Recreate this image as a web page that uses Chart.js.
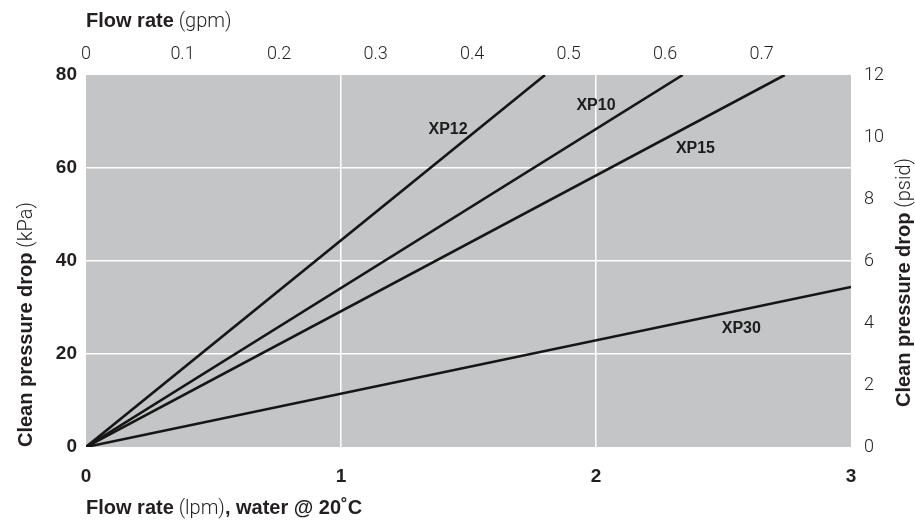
<!DOCTYPE html>
<html>
<head>
<meta charset="utf-8">
<script src="https://cdn.jsdelivr.net/npm/chart.js@4.4.1/dist/chart.umd.min.js"></script>
<style>
  html, body { margin: 0; padding: 0; background: #fff; }
  #wrap { width: 915px; height: 524px; position: relative; }
</style>
</head>
<body>
<div id="wrap"><canvas id="chart"></canvas></div>
<script>
// data
const seriesNames = ['XP12', 'XP10', 'XP15', 'XP30'];
const flowEnd = [1.8, 2.34, 2.74, 3];      // lpm where each line leaves the plot
const dropEnd = [80, 80, 80, 34.4];        // kPa at that point
const labelFlow = [1.42, 2.0, 2.39, 2.57]; // where the series names sit
const labelDrop = [68.2, 73.5, 64.1, 25.4];

const lpmTicks = [0, 1, 2, 3];
const kpaTicks = [0, 20, 40, 60, 80];
const psiTicks = [0, 2, 4, 6, 8, 10, 12];
const gpmMax = 3 / 3.785;

const BOLD = "bold 20px 'Liberation Sans', Arial, sans-serif";
const LIGHT = "300 20px Roboto, 'Liberation Sans', sans-serif";

const datasets = seriesNames.map((name, i) => ({
    label: name,
    data: [{x: 0, y: 0}, {x: flowEnd[i], y: dropEnd[i]}],
    borderColor: '#161616',
    borderWidth: 2.6,
    pointRadius: 0,
    xAxisID: 'x',
    yAxisID: 'y'
}));

// gray plot background
const background = {
    id: 'background',
    beforeDraw(chart) {
        const {ctx, chartArea: a} = chart;
        ctx.save();
        ctx.fillStyle = '#c4c5c7';
        ctx.fillRect(a.left, a.top, a.right - a.left, a.bottom - a.top);
        ctx.restore();
    }
};

// draw parts of a title in mixed weights
function drawParts(ctx, parts, x, y) {
    parts.forEach(([text, font]) => {
        ctx.font = font;
        ctx.fillText(text, x, y);
        x += ctx.measureText(text).width;
    });
}

const titles = {
    id: 'titles',
    afterDraw(chart) {
        const {ctx} = chart;
        const x = chart.scales.x, y = chart.scales.y;
        ctx.save();
        ctx.fillStyle = '#231f20';
        ctx.textBaseline = 'alphabetic';
        ctx.textAlign = 'left';
        drawParts(ctx, [['Flow rate', BOLD], [' (gpm)', LIGHT]], x.left, 27);
        drawParts(ctx, [['Flow rate', BOLD], [' (lpm)', LIGHT], [', water @ 20˚C', BOLD]], x.left, 514);

        ctx.save();
        ctx.translate(32, 447);
        ctx.rotate(-Math.PI / 2);
        drawParts(ctx, [['Clean pressure drop', BOLD], [' (kPa)', LIGHT]], 0, 0);
        ctx.restore();

        ctx.save();
        ctx.translate(910, 407);
        ctx.rotate(-Math.PI / 2);
        drawParts(ctx, [['Clean pressure drop', BOLD], [' (psid)', LIGHT]], 0, 0);
        ctx.restore();

        // series names
        ctx.font = "bold 16px 'Liberation Sans', Arial, sans-serif";
        ctx.fillStyle = '#1c1c1c';
        ctx.textAlign = 'center';
        ctx.textBaseline = 'middle';
        seriesNames.forEach((name, i) => {
            ctx.fillText(name, x.getPixelForValue(labelFlow[i]), y.getPixelForValue(labelDrop[i]));
        });
        ctx.restore();
    }
};

function innerGrid(edges) {
    return ctx => {
        const v = ctx.tick && ctx.tick.value;
        return edges.includes(v) ? 'rgba(0,0,0,0)' : '#ffffff';
    };
}

new Chart(document.getElementById('chart'), {
    type: 'line',
    data: {datasets},
    options: {
        responsive: true,
        maintainAspectRatio: false,
        animation: false,
        layout: {padding: 0},
        plugins: {legend: {display: false}, tooltip: {enabled: false}},
        scales: {
            x: {
                type: 'linear', position: 'bottom', min: 0, max: 3,
                afterBuildTicks: s => { s.ticks = lpmTicks.map(v => ({value: v})); },
                afterFit: s => { s.height = 77; },
                border: {display: false},
                grid: {color: innerGrid([0, 3]), lineWidth: 1.5, drawTicks: false},
                ticks: {padding: 18, color: '#231f20', font: {family: "'Liberation Sans', Arial", size: 19, weight: 'bold'}}
            },
            x2: {
                type: 'linear', position: 'top', min: 0, max: gpmMax,
                afterFit: s => { s.height = 75; },
                border: {display: false},
                grid: {display: false, drawTicks: false},
                ticks: {stepSize: 0.1, includeBounds: false, padding: 10, color: '#231f20',
                        font: {family: 'Roboto', size: 18, weight: '300'}}
            },
            y: {
                type: 'linear', position: 'left', min: 0, max: 80,
                afterBuildTicks: s => { s.ticks = kpaTicks.map(v => ({value: v})); },
                afterFit: s => { s.width = 86; },
                border: {display: false},
                grid: {color: innerGrid([0, 80]), lineWidth: 1.5, drawTicks: false},
                ticks: {padding: 9, color: '#231f20', font: {family: "'Liberation Sans', Arial", size: 19, weight: 'bold'}}
            },
            y2: {
                type: 'linear', position: 'right', min: 0, max: 12,
                afterBuildTicks: s => { s.ticks = psiTicks.map(v => ({value: v})); },
                afterFit: s => { s.width = 64; },
                border: {display: false},
                grid: {display: false, drawTicks: false},
                ticks: {padding: 13, color: '#231f20', font: {family: 'Roboto', size: 18, weight: '300'}}
            }
        }
    },
    plugins: [background, titles]
});
</script>
</body>
</html>
